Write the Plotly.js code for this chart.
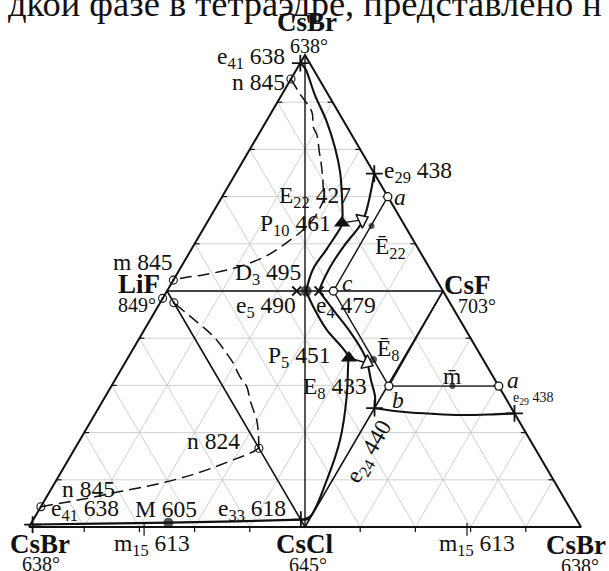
<!DOCTYPE html>
<html><head><meta charset="utf-8">
<script src="https://cdn.plot.ly/plotly-3.0.1.min.js"></script>
<style>html,body{margin:0;padding:0;background:#fff}</style>
</head><body><div id="chart" style="width:609px;height:571px"></div>
<script>
// ---- data (diagram units: each face of the unfolded tetrahedron has side 100) ----
const outlineX = [0, 100, 200, 0];
const outlineY = [0, 173.2, 0, 0];
const innerX = [50, 150, 100, 50];
const innerY = [86.6, 86.6, 0, 86.6];
const sectionX = [100, 100];
const sectionY = [173.2, 0];

// monovariant curves (solid)
const curveE41P10X = [98.3, 100.0, 103.6, 107.9, 110.9, 112.7, 113.3, 113.6, 113.4];
const curveE41P10Y = [170.2, 168.4, 158.5, 148.7, 139.1, 130.4, 123.0, 114.5, 111.6];
const curveP10D3X = [113.4, 113.2, 107.8, 102.9, 100.4];
const curveP10D3Y = [111.6, 110.5, 101.9, 94.6, 86.6];
const curveE29E4X = [125.1, 123.6, 122.1, 120.7, 119.3, 113.9, 109.1, 105.4, 105.1];
const curveE29E4Y = [129.7, 121.8, 115.6, 111.9, 109.7, 102.8, 95.4, 87.6, 86.6];
const curveE4E24X = [105.1, 110.3, 116.3, 121.0, 122.5, 123.9, 125.4, 125.2];
const curveE4E24Y = [86.6, 79.6, 71.7, 64.2, 60.6, 53.9, 47.7, 43.6];
const curveD3P5X = [100.4, 103.0, 107.9, 112.7, 115.1, 115.9];
const curveD3P5Y = [86.6, 80.8, 72.3, 66.8, 63.7, 62.0];
const curveP5E33X = [115.9, 115.7, 115.1, 112.7, 107.9, 101.8, 98.5];
const curveP5E33Y = [62.0, 60.7, 47.8, 31.9, 17.2, 3.8, 2.7];
const curveE24E29X = [125.2, 136.2, 146.5, 156.2, 167.0, 175.9];
const curveE24E29Y = [43.6, 42.2, 41.5, 41.1, 41.3, 41.7];
const curveE41E33X = [1.3, 25, 50.5, 75, 98.5];
const curveE41E33Y = [0.9, 1.25, 1.6, 2.05, 2.7];

// immiscibility boundaries (dashed)
const dashTopX = [94.9, 98.2, 102.5, 103.0, 104.3, 105.2, 105.8, 106.4, 106.6, 106.9, 105.4, 103.3, 99.3, 94.6, 87.3, 80.1, 71.7, 63.0, 55.8, 52.3];
const dashTopY = [164.4, 158.9, 152.3, 146.8, 143.9, 137.6, 133.9, 128.1, 124.8, 120.7, 117.1, 113.4, 109.0, 105.3, 100.2, 96.9, 94.3, 92.5, 91.4, 90.6];
const dashLowX = [4.3, 20.9, 33.0, 47.5, 60.8, 73.9, 81.2, 83.3];
const dashLowY = [7.45, 10.5, 13.0, 16.0, 19.7, 24.6, 27.6, 28.9];
const dashInnerX = [83.3, 83.1, 82.5, 81.3, 80.1, 78.9, 76.4, 74.0, 71.6, 68.0, 65.0, 60.8, 57.1, 52.5];
const dashInnerY = [28.9, 34.5, 39.3, 42.9, 46.6, 51.5, 55.2, 60.1, 63.7, 68.6, 71.7, 75.3, 78.4, 82.3];

// straight secants
const secantsX = [110.3, 130.0, null, 110.3, 130.4, null, 130.4, 150, null, 130.4, 170.2, null, 113.4, 120.7, null, 115.9, 122.5];
const secantsY = [86.6, 121.2, null, 86.6, 51.7, null, 51.7, 86.6, null, 51.7, 51.7, null, 111.6, 112.7, null, 62.0, 60.2];

// points
const plusX = [98.3, 125.1, 1.3, 98.5, 125.2, 175.9];
const plusY = [170.2, 129.7, 0.9, 2.7, 43.6, 41.7];
const xmarkX = [97.0, 105.1];
const xmarkY = [86.6, 86.6];
const bullX = [94.9, 4.3, 83.3, 52.3, 48.4, 52.5];
const bullY = [164.4, 7.45, 28.9, 90.6, 83.9, 82.3];
const openX = [130.0, 110.3, 130.4, 170.2];
const openY = [121.2, 86.6, 51.7, 51.7];
const dotX = [100.4, 50.5, 124.1, 124.8, 153.4];
const dotY = [86.6, 1.6, 110.5, 61.5, 51.7];
const dotSize = [11, 10, 6, 7, 6];
const peritX = [113.4, 115.9];
const peritY = [111.6, 62.0];
const arrowX = [120.7, 122.5];
const arrowY = [112.7, 60.2];
const arrowAngle = [-25, 25];

// composition ticks on the base
const m15X = [41.7, 158.7];

// ---- build ----
const BLACK = '#111';
const traces = [];
const hh = Math.sqrt(3) / 2;
const gx = [], gy = [];
for (let k = 1; k < 10; k++) {
  const y = 20 * k * hh;
  gx.push(10 * k, 200 - 10 * k, null); gy.push(y, y, null);
  gx.push(20 * k, 100 + 10 * k, null); gy.push(0, (200 - 20 * k) * hh, null);
  gx.push(20 * k, 10 * k, null); gy.push(0, 20 * k * hh, null);
}
traces.push({x: gx, y: gy, mode: 'lines', line: {color: '#c4c4c4', width: 0.8}, hoverinfo: 'skip'});

const tx = [], ty = [];
for (let k = 1; k < 10; k++) {
  if (k === 5) continue;
  const y = 20 * k * hh;
  tx.push(10 * k, 10 * k + 1.8, null); ty.push(y, y, null);
  tx.push(200 - 10 * k, 200 - 10 * k - 1.8, null); ty.push(y, y, null);
  tx.push(20 * k, 20 * k, null); ty.push(0, -1.8, null);
}
m15X.forEach(v => { tx.push(v, v, null); ty.push(1.5, -3.2, null); });
traces.push({x: tx, y: ty, mode: 'lines', line: {color: BLACK, width: 1.2}, hoverinfo: 'skip'});

function ln(x, y, w, dash, shape) {
  traces.push({x: x, y: y, mode: 'lines', line: {color: BLACK, width: w, dash: dash || 'solid', shape: shape || 'linear', smoothing: 1}, hoverinfo: 'skip', cliponaxis: false});
}
ln(outlineX, outlineY, 2);
ln(innerX, innerY, 1.6);
ln(sectionX, sectionY, 1.4);
ln(secantsX, secantsY, 1.4);
[[curveE41P10X, curveE41P10Y], [curveP10D3X, curveP10D3Y], [curveE29E4X, curveE29E4Y], [curveE4E24X, curveE4E24Y],
 [curveD3P5X, curveD3P5Y], [curveP5E33X, curveP5E33Y], [curveE24E29X, curveE24E29Y], [curveE41E33X, curveE41E33Y]]
  .forEach(c => ln(c[0], c[1], 2.1, 'solid', 'spline'));
[[dashTopX, dashTopY], [dashLowX, dashLowY], [dashInnerX, dashInnerY]]
  .forEach(c => ln(c[0], c[1], 1.5, '12px,6px', 'spline'));

function pts(x, y, sym, size, color, lw, extra) {
  const m = Object.assign({symbol: sym, size: size, color: color, line: {color: BLACK, width: lw}}, extra || {});
  traces.push({x: x, y: y, mode: 'markers', marker: m, hoverinfo: 'skip', cliponaxis: false});
}
pts(plusX, plusY, 'cross-thin', 12, BLACK, 1.8);
pts(xmarkX, xmarkY, 'x-thin', 9, BLACK, 1.8);
pts(bullX, bullY, 'circle-open-dot', 8, BLACK, 1.1);
pts(openX, openY, 'circle', 8, '#fff', 1.3);
pts(dotX, dotY, 'circle', dotSize, BLACK, 0);
pts(peritX, peritY, 'triangle-up', 14, BLACK, 0);
pts(arrowX, arrowY, 'triangle-right', 13, '#fff', 1.5, {angle: arrowAngle});

// ---- labels ----
const FONT = 'Liberation Serif, Times New Roman, serif';
const ann = [];
function lab(text, x, y, size, xa, opts) {
  ann.push(Object.assign({text: text, x: x, y: y, xref: 'x', yref: 'y', showarrow: false,
    xanchor: xa || 'center', yanchor: 'middle', font: {family: FONT, size: size, color: BLACK}}, opts || {}));
}
const B = 27, N = 23.5, D = 20;
lab('<b>CsBr</b>', 100.7, 185.3, B);
lab('638°', 101.4, 176.5, D);
lab('<b>CsBr</b>', 4.0, -6.2, B);
lab('638°', 4.3, -13.6, D);
lab('<b>CsCl</b>', 100, -6.2, B);
lab('645°', 101.1, -13.9, D);
lab('<b>CsBr</b>', 198.2, -6.6, B);
lab('638°', 199.6, -14.3, D);
lab('<b>LiF</b>', 39.9, 89.2, B);
lab('849°', 39.1, 81.5, D);
lab('<b>CsF</b>', 158.7, 88.8, B);
lab('703°', 162.3, 81.1, D);

lab('e<sub>41</sub> 638', 93.3, 172.1, N, 'right');
lab('n 845', 93.3, 163.3, N, 'right');
lab('e<sub>29</sub> 438', 128.0, 130.3, N, 'left');
lab('<i>a</i>', 134.4, 121.1, N);
lab('E<sub>22</sub> 427', 103.8, 121.1, N);
lab('P<sub>10</sub> 461', 96.6, 110.8, N);
lab('Ē<sub>22</sub>', 130.8, 102.4, N);
lab('D<sub>3</sub> 495', 86.6, 92.8, N);
lab('e<sub>5</sub> 490', 85.7, 80.7, N);
lab('e<sub>4</sub> 479', 115.0, 80.7, N);
lab('<i>c</i>', 115.4, 89.5, N);
lab('P<sub>5</sub> 451', 97.8, 62.4, N);
lab('Ē<sub>8</sub>', 130.1, 65.0, N);
lab('E<sub>8</sub> 433', 110.9, 51.0, N);
lab('m\u0304', 153.3, 55.4, N);
lab('<i>a</i>', 175.4, 53.9, N);
lab('e<sub>29</sub> 438', 174.6, 47.0, 14, 'left');
lab('<i>b</i>', 133.7, 46.6, N);
lab('e<sub>24</sub> 440', 123.6, 27.5, N, 'center', {textangle: -60});
lab('m 845', 41.3, 97.2, N);
lab('n 824', 66.7, 31.6, N);
lab('n 845', 21.4, 13.9, N);
lab('e<sub>41</sub> 638', 20.3, 6.2, N);
lab('M 605', 49.6, 6.6, N);
lab('e<sub>33</sub> 618', 80.8, 6.2, N);
lab('m<sub>15</sub> 613', 44.6, -6.6, N);
lab('m<sub>15</sub> 613', 162.3, -6.6, N);
// page text cut off above the figure
ann.push({text: 'дкой фазе в тетраэдре, представлено н', xref: 'paper', yref: 'paper', x: 0.5, y: 0.993,
  xanchor: 'center', yanchor: 'middle', showarrow: false, font: {family: FONT, size: 36.5, color: BLACK}});

const layout = {
  width: 609, height: 571, margin: {l: 0, r: 0, t: 0, b: 0},
  paper_bgcolor: '#fff', plot_bgcolor: '#fff', showlegend: false,
  xaxis: {range: [-10.507, 210.145], visible: false, fixedrange: true},
  yaxis: {range: [-16.147, 193.39], visible: false, fixedrange: true},
  annotations: ann
};
Plotly.newPlot('chart', traces, layout, {displayModeBar: false, staticPlot: true});
</script></body></html>
